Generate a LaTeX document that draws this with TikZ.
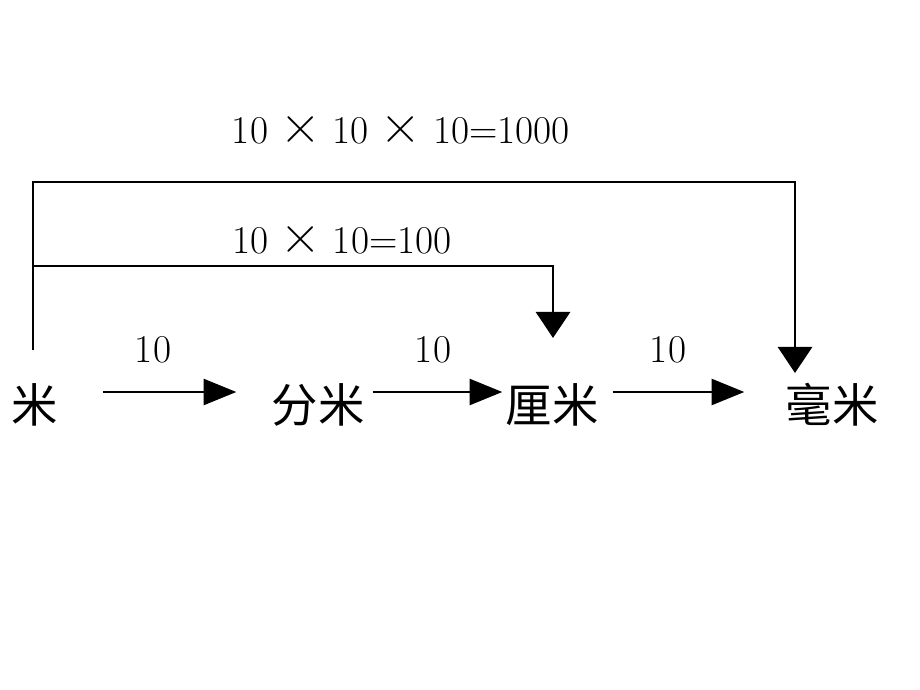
\documentclass[tikz,border=0pt]{standalone}
\usepackage{fontspec}
\newfontfamily\cjk{Noto Sans CJK SC}
\usetikzlibrary{arrows.meta,positioning}

\newcommand{\tms}{\hspace{0.3cm}{\fontsize{40}{40}\selectfont ×}\hspace{0.3cm}}

\tikzset{
  unitname/.style={font=\cjk\fontsize{33}{36}\selectfont, inner sep=0pt},
  factor/.style={font=\fontsize{28}{30}\selectfont, inner sep=0pt},
  conv/.style={line width=2pt, -{Triangle[length=0.82cm,width=0.65cm]}},
  drop/.style={line width=2pt, -{Triangle[length=0.65cm,width=0.85cm]}},
}

\begin{document}
\begin{tikzpicture}[x=0.025cm, y=-0.025cm]
    \useasboundingbox (0,0) rectangle (920,690);

    % Units
    \node[unitname] (mi) at (35,405) {米};
    \node[unitname] (fenmi) at (318,405) {分米};
    \node[unitname] (limi) at (552,405) {厘米};
    \node[unitname] (haomi) at (832,405) {毫米};

    % Step arrows
    \draw[conv] ([shift={(45,-13)}]mi.east) -- ([shift={(-35,-13)}]fenmi.west);
    \draw[conv] ([shift={(8,-13)}]fenmi.east) -- ([shift={(-3,-13)}]limi.west);
    \draw[conv] ([shift={(14,-13)}]limi.east) -- ([shift={(-41,-13)}]haomi.west);
    \node[factor] (f1) at (153,350) {10};
    \node[factor] (f2) at (433,350) {10};
    \node[factor] (f3) at (668,350) {10};

    % Brackets
    \coordinate (root) at (33,350);
    \coordinate (tipli) at (553,338);
    \coordinate (tiphao) at (795,373);
    \draw[drop] (root) -- (33,182) -| (tiphao);
    \draw[drop] (33,266) -| (tipli);
    \node[factor] (prod3) at (401,130) {10\tms 10\tms 10=1000};
    \node[factor] (prod2) at (342,240) {10\tms 10=100};
\end{tikzpicture}
\end{document}
